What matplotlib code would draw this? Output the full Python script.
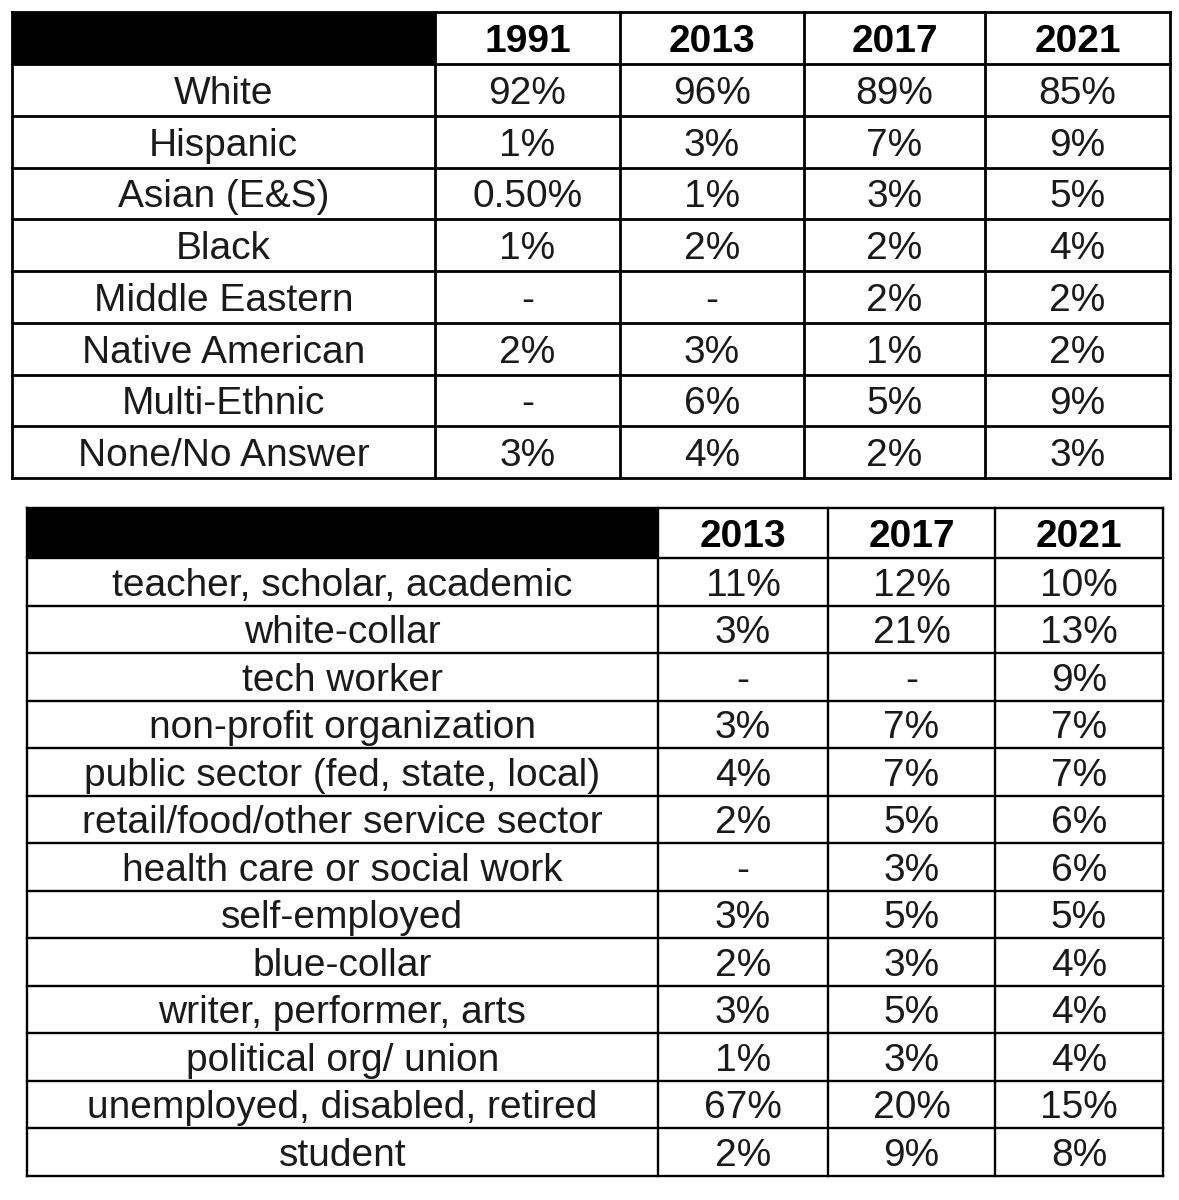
import matplotlib
matplotlib.use('Agg')
import matplotlib.pyplot as plt
import numpy as np

# ---- data ----
eth_years = ['1991', '2013', '2017', '2021']
eth_labels = ['White', 'Hispanic', 'Asian (E&S)', 'Black', 'Middle Eastern',
              'Native American', 'Multi-Ethnic', 'None/No Answer']
eth_1991 = ['92%', '1%', '0.50%', '1%', '-', '2%', '-', '3%']
eth_2013 = ['96%', '3%', '1%', '2%', '-', '3%', '6%', '4%']
eth_2017 = ['89%', '7%', '3%', '2%', '2%', '1%', '5%', '2%']
eth_2021 = ['85%', '9%', '5%', '4%', '2%', '2%', '9%', '3%']

job_years = ['2013', '2017', '2021']
job_labels = ['teacher, scholar, academic', 'white-collar', 'tech worker',
              'non-profit organization', 'public sector (fed, state, local)',
              'retail/food/other service sector', 'health care or social work',
              'self-employed', 'blue-collar', 'writer, performer, arts',
              'political org/ union', 'unemployed, disabled, retired', 'student']
job_2013 = ['11%', '3%', '-', '3%', '4%', '2%', '-', '3%', '2%', '3%', '1%', '67%', '2%']
job_2017 = ['12%', '21%', '-', '7%', '7%', '5%', '3%', '5%', '3%', '5%', '3%', '20%', '9%']
job_2021 = ['10%', '13%', '9%', '7%', '7%', '6%', '6%', '5%', '4%', '4%', '4%', '15%', '8%']

W, H = 1179, 1200
FONT = 'Liberation Sans'
FS = 28
TXT = '#1a1a1a'


def draw_table(ax, col_x, top, head_h, row_h, years, labels, columns, lw):
    n = len(labels)
    row_y = [top, top + head_h] + [top + head_h + row_h * (i + 1) for i in range(n)]
    # black header block over the label column
    ax.fill_between([col_x[0], col_x[1]], top, top + head_h, color='black', lw=0)
    # grid
    for y in row_y:
        ax.plot([col_x[0], col_x[-1]], [y, y], color='black', lw=lw, solid_capstyle='projecting')
    for x in col_x:
        ax.plot([x, x], [row_y[0], row_y[-1]], color='black', lw=lw, solid_capstyle='projecting')
    cap = 0.36 * FS * 100 / 72
    # header years
    for j, yr in enumerate(years):
        cx = (col_x[j + 1] + col_x[j + 2]) / 2
        cy = top + head_h / 2
        ax.text(cx, cy + cap, yr, ha='center', va='baseline', fontsize=FS,
                fontweight='bold', family=FONT, color='black')
    # body
    for i, lab in enumerate(labels):
        cy = row_y[i + 1] + row_h / 2
        ax.text((col_x[0] + col_x[1]) / 2, cy + cap, lab, ha='center', va='baseline',
                fontsize=FS, family=FONT, color=TXT)
        for j, col in enumerate(columns):
            cx = (col_x[j + 1] + col_x[j + 2]) / 2
            ax.text(cx, cy + cap, col[i], ha='center', va='baseline',
                    fontsize=FS, family=FONT, color=TXT)


fig = plt.figure(figsize=(W / 100, H / 100), dpi=100)
ax = fig.add_axes([0, 0, 1, 1])
ax.set_xlim(0, W)
ax.set_ylim(H, 0)
ax.axis('off')

draw_table(ax, [12, 435, 620, 804, 985, 1170], 12, 52, 51.75,
           eth_years, eth_labels, [eth_1991, eth_2013, eth_2017, eth_2021], 2.0)
draw_table(ax, [27, 658, 828, 995, 1163], 508, 50, 47.5,
           job_years, job_labels, [job_2013, job_2017, job_2021], 1.7)

fig.savefig('out.png', dpi=100, facecolor='white')
